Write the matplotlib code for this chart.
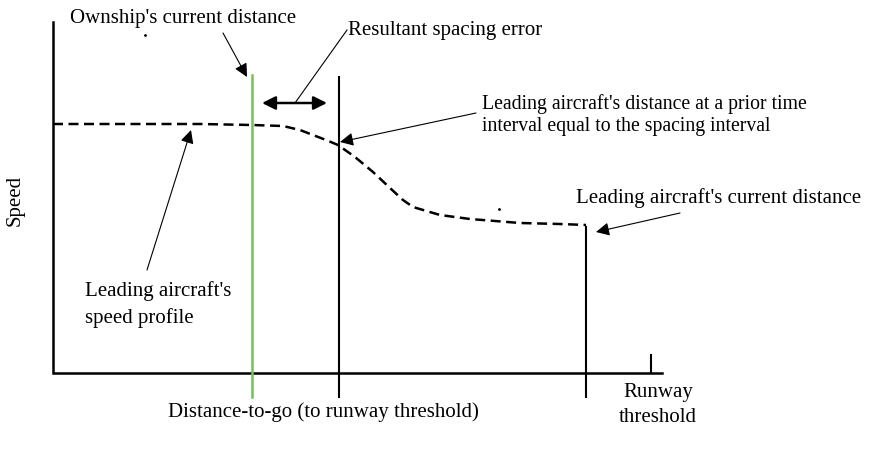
import numpy as np
import matplotlib
matplotlib.use('Agg')
import matplotlib.pyplot as plt

plt.rcParams['font.family'] = ['Liberation Serif', 'DejaVu Serif']

# schematic units: distance along x, speed along y (no scale in the original)
axis_x = [53, 53, 662]
axis_y = [428, 77, 77]
tick_x = [651, 651]
tick_y = [77, 95]

# leading aircraft's speed profile (dashed)
prof_dist = [53, 100, 150, 200, 252, 283, 300, 313, 326, 338, 355, 373, 390, 403, 413, 440, 470, 520, 560, 586]
prof_speed = [326, 326, 326, 326, 325, 324, 320, 315, 310, 305, 293, 278, 262, 250, 243, 235, 231, 227, 226, 225]

ownship_x = 252
ownship_y = [53, 375]
prior_x = 339
prior_y = [53, 373]
current_x = 586
current_y = [53, 223]

fs = 15
fig = plt.figure(figsize=(8.69, 4.5), dpi=100)
ax = fig.add_axes([0, 0, 1, 1])
ax.set_xlim(0, 869)
ax.set_ylim(0, 450)
ax.axis('off')

ax.plot(axis_x, axis_y, color='black', lw=1.8, solid_joinstyle='miter')
ax.plot(tick_x, tick_y, color='black', lw=1.5)
ax.plot(prof_dist, prof_speed, color='black', lw=1.8, ls=(0, (4, 2.2)))
ax.plot([ownship_x, ownship_x], ownship_y, color='#76c15a', lw=1.8)
ax.plot([prior_x, prior_x], prior_y, color='black', lw=1.5)
ax.plot([current_x, current_x], current_y, color='black', lw=1.5)

# stray dots in the original drawing
ax.plot([145, 499], [415, 241], 'k.', ms=2)

head = dict(arrowstyle='-|>,head_length=0.8,head_width=0.4', color='black', lw=0.8, shrinkA=0, shrinkB=0)

ax.annotate('', xy=(247, 373), xytext=(223, 417), arrowprops=head)
ax.annotate('', xy=(262, 347), xytext=(327, 347),
            arrowprops=dict(arrowstyle='<|-|>,head_length=0.8,head_width=0.4', color='black', lw=1.8, shrinkA=0, shrinkB=0))
ax.plot([295, 347], [347, 420], color='black', lw=0.8)
ax.annotate('', xy=(340, 308), xytext=(476, 337), arrowprops=head)
ax.annotate('', xy=(596, 218), xytext=(680, 237), arrowprops=head)
ax.annotate('', xy=(191, 320), xytext=(147, 180), arrowprops=head)

ax.text(70, 427, "Ownship's current distance", fontsize=fs, va='baseline')
ax.text(348, 420, "Resultant spacing error", fontsize=fs, va='center')
ax.text(482, 346, "Leading aircraft's distance at a prior time", fontsize=14.2, va='center')
ax.text(482, 323, "interval equal to the spacing interval", fontsize=14.2, va='center')
ax.text(576, 252, "Leading aircraft's current distance", fontsize=fs, va='center')
ax.text(85, 159, "Leading aircraft's", fontsize=fs, va='center')
ax.text(85, 132, "speed profile", fontsize=fs, va='center')
ax.text(15, 250, "Speed", fontsize=fs, rotation=90, va='center', ha='center')
ax.text(323, 38, "Distance-to-go (to runway threshold)", fontsize=fs, va='center', ha='center')
ax.text(658, 57, "Runway", fontsize=fs, va='center', ha='center')
ax.text(658, 32, "threshold", fontsize=fs, va='center', ha='center')

plt.savefig('out.png', dpi=100)
